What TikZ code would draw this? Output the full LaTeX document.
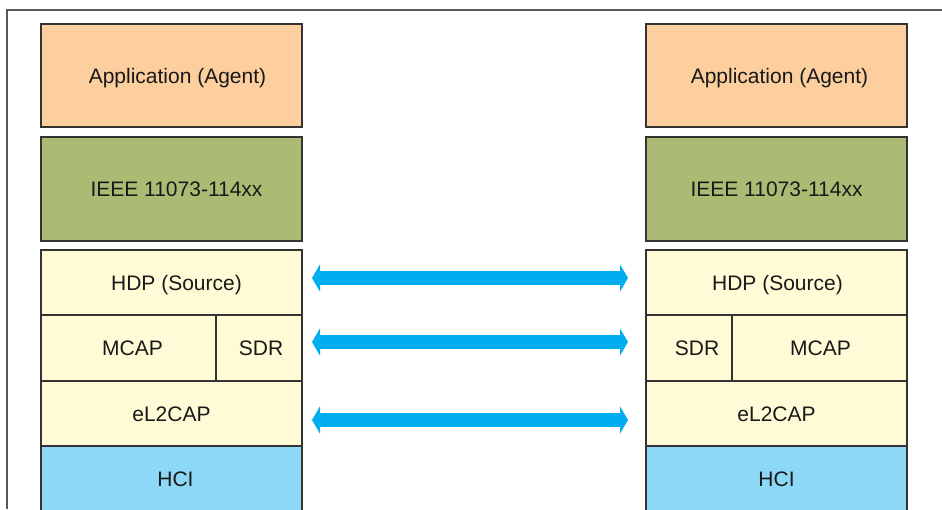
\documentclass[tikz,border=0pt]{standalone}
\usepackage{fontspec}
\setmainfont{Liberation Sans}
\usetikzlibrary{positioning, arrows.meta}
\definecolor{appcol}{HTML}{FDCF9F}
\definecolor{ieeecol}{HTML}{ABBB73}
\definecolor{protcol}{HTML}{FFFBD6}
\definecolor{hcicol}{HTML}{8DD8F7}
\definecolor{linkcol}{HTML}{00ADEE}

\begin{document}
\begin{tikzpicture}[x=1pt,y=1pt,node distance=0pt,
  layer/.style={draw=black!80,line width=1.4pt,outer sep=0pt,inner sep=0pt,minimum width=261pt,text=black!90,text height=15pt,text depth=0pt,font=\fontsize{21}{25}\selectfont},
  nudge/.style={execute at begin node=\hspace*{#1}},
  app/.style={layer,fill=appcol,minimum height=103pt},
  ieee/.style={layer,fill=ieeecol,minimum height=104pt},
  proto/.style={layer,fill=protcol,minimum height=65pt},
  hci/.style={layer,fill=hcicol,minimum height=65pt},
  link/.style={draw=linkcol,line width=14pt,{Triangle[width=27pt,length=8pt]}-{Triangle[width=27pt,length=8pt]}}]
  \clip (0,0) rectangle (942,-509);
  \draw[line width=1.3pt,draw=black!65] (942,-10) -- (7,-10) -- (7,-509);

  % agent side
  \node[app,nudge=12pt] (app_l) at (171.5,-75.5) {Application (Agent)};
  \node[ieee,nudge=10pt] (ieee_l) [below=10pt of app_l] {IEEE 11073-114xx};
  \node[proto,nudge=10pt] (hdp_l) [below=9pt of ieee_l] {HDP (Source)};
  \node[proto,nudge=8pt,minimum width=175pt,minimum height=66pt] (mcap_l) [below right=of hdp_l.south west] {MCAP};
  \node[proto,nudge=4pt,minimum width=86pt,minimum height=66pt] (sdr_l) [right=of mcap_l] {SDR};
  \node[proto] (l2cap_l) [below right=of mcap_l.south west] {eL2CAP};
  \node[hci,nudge=8pt] (hci_l) [below right=of l2cap_l.south west] {HCI};

  % peer side
  \node[app,nudge=6pt] (app_r) [right=344pt of app_l] {Application (Agent)};
  \node[ieee] (ieee_r) [below=10pt of app_r] {IEEE 11073-114xx};
  \node[proto,nudge=2pt] (hdp_r) [below=9pt of ieee_r] {HDP (Source)};
  \node[proto,nudge=16pt,minimum width=86pt,minimum height=66pt] (sdr_r) [below right=of hdp_r.south west] {SDR};
  \node[proto,nudge=2pt,minimum width=175pt,minimum height=66pt] (mcap_r) [right=of sdr_r] {MCAP};
  \node[proto] (l2cap_r) [below right=of sdr_r.south west] {eL2CAP};
  \node[hci] (hci_r) [below right=of l2cap_r.south west] {HCI};

  \draw[link] ([xshift=10pt,yshift=4.5pt]hdp_l.east) -- ([xshift=-18pt,yshift=4.5pt]hdp_r.west);
  \draw[link] ([xshift=10pt,yshift=6pt]sdr_l.east) -- ([xshift=-18pt,yshift=6pt]sdr_r.west);
  \draw[link] ([xshift=10pt,yshift=-6.5pt]l2cap_l.east) -- ([xshift=-18pt,yshift=-6.5pt]l2cap_r.west);
\end{tikzpicture}
\end{document}
